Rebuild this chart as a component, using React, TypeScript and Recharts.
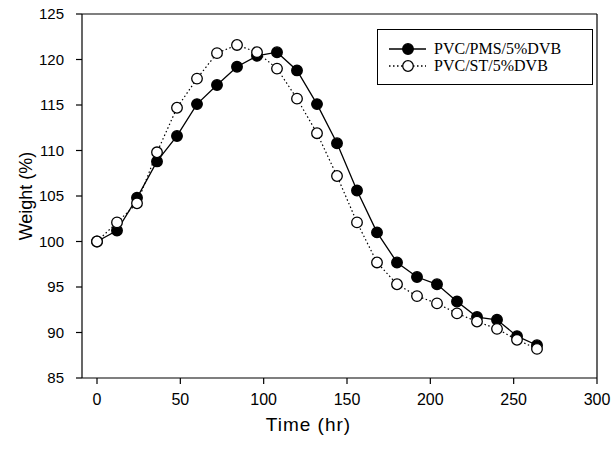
import {
  LineChart,
  Line,
  XAxis,
  YAxis,
  Legend,
  ReferenceLine,
} from "recharts";

const times = [0, 12, 24, 36, 48, 60, 72, 84, 96, 108, 120, 132, 144, 156, 168, 180, 192, 204, 216, 228, 240, 252, 264];

const pmsWeight = [
  100, 101.2, 104.8, 108.8, 111.6, 115.1, 117.2, 119.2, 120.4, 120.8, 118.8, 115.1,
  110.8, 105.6, 101.0, 97.7, 96.1, 95.3, 93.4, 91.7, 91.4, 89.6, 88.6,
];

const stWeight = [
  100, 102.1, 104.2, 109.8, 114.7, 117.9, 120.7, 121.6, 120.8, 119.0, 115.7, 111.9,
  107.2, 102.1, 97.7, 95.3, 94.0, 93.2, 92.1, 91.2, 90.4, 89.2, 88.2,
];

const xTicks = [0, 50, 100, 150, 200, 250, 300];
const yTicks = [85, 90, 95, 100, 105, 110, 115, 120, 125];

const seriesNames = ["PVC/PMS/5%DVB", "PVC/ST/5%DVB"];

const data = times.map((t, i) => ({ time: t, pms: pmsWeight[i], st: stWeight[i] }));

const sansFont = "'Liberation Sans', Arial, sans-serif";
const serifFont = "'Liberation Serif', 'Times New Roman', serif";

function LegendBox() {
  const row = (filled: boolean, dashed: boolean, label: string) => (
    <div style={{ display: "flex", alignItems: "center", height: 17 }}>
      <svg width={50} height={14} style={{ marginLeft: 8 }}>
        <line
          x1={3}
          y1={7}
          x2={40}
          y2={7}
          stroke="#000"
          strokeWidth={1.3}
          strokeDasharray={dashed ? "1.5 2.5" : undefined}
        />
        <circle cx={22} cy={7} r={5.3} fill={filled ? "#000" : "#fff"} stroke="#000" strokeWidth={1.3} />
      </svg>
      <span style={{ fontFamily: serifFont, fontSize: 16, color: "#000", marginLeft: -2 }}>{label}</span>
    </div>
  );
  return (
    <div
      style={{
        width: 214,
        height: 52,
        border: "1px solid #000",
        boxSizing: "content-box",
        paddingTop: 2,
      }}
    >
      <div style={{ marginTop: 8 }}>{row(true, false, seriesNames[0])}</div>
      {row(false, true, seriesNames[1])}
    </div>
  );
}

export default function App() {
  return (
    <div style={{ position: "absolute", left: 0, top: 0, width: 613, height: 450, background: "#fff" }}>
      <LineChart width={613} height={450} data={data} margin={{ top: 14, right: 16, bottom: 42, left: 20 }}>
        <XAxis
          dataKey="time"
          type="number"
          domain={[-9, 300]}
          ticks={xTicks}
          height={30}
          tickSize={6}
          tickMargin={10}
          stroke="#000"
          strokeWidth={1.2}
          tick={{ fill: "#000", fontSize: 16, fontFamily: sansFont }}
          label={{
            value: "Time (hr)",
            position: "bottom",
            offset: 10,
            dx: -31,
            style: { fill: "#000", fontSize: 19, fontFamily: sansFont, letterSpacing: 1, textAnchor: "middle" },
          }}
        />
        <YAxis
          type="number"
          domain={[85, 125]}
          ticks={yTicks}
          width={62}
          tickSize={6}
          tickMargin={12}
          stroke="#000"
          strokeWidth={1.2}
          tick={{ fill: "#000", fontSize: 15, fontFamily: sansFont }}
          label={{
            value: "Weight (%)",
            angle: -90,
            position: "insideLeft",
            offset: 6,
            dy: 0,
            style: { fill: "#000", fontSize: 18, fontFamily: sansFont, textAnchor: "middle" },
          }}
        />
        <ReferenceLine y={125} stroke="#000" strokeWidth={1.2} />
        <ReferenceLine x={300} stroke="#000" strokeWidth={1.2} />
        <Legend
          layout="vertical"
          align="center"
          verticalAlign="middle"
          content={() => <LegendBox />}
          wrapperStyle={{ position: "absolute", left: 377, top: 29, width: 216 }}
        />
        <Line
          dataKey="pms"
          name={seriesNames[0]}
          stroke="#000"
          strokeWidth={1.3}
          dot={{ r: 5.3, fill: "#000", stroke: "#000", strokeWidth: 1.3 }}
          isAnimationActive={false}
        />
        <Line
          dataKey="st"
          name={seriesNames[1]}
          stroke="#000"
          strokeWidth={1.2}
          strokeDasharray="1.5 2.5"
          dot={{ r: 5.3, fill: "#fff", stroke: "#000", strokeWidth: 1.3, strokeDasharray: "" }}
          isAnimationActive={false}
        />
      </LineChart>
    </div>
  );
}
